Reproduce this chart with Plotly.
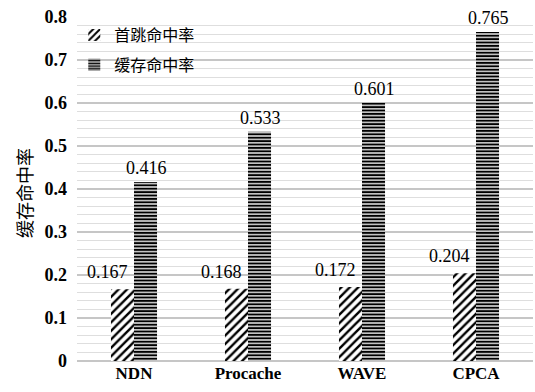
import plotly.graph_objects as go

# Hit-ratio comparison of four caching schemes
schemes = ["NDN", "Procache", "WAVE", "CPCA"]
first_hop_hit = [0.167, 0.168, 0.172, 0.204]
cache_hit = [0.416, 0.533, 0.601, 0.765]
series_names = ["首跳命中率", "缓存命中率"]
y_ticks = [0, 0.1, 0.2, 0.3, 0.4, 0.5, 0.6, 0.7, 0.8]

serif = "Liberation Serif"
cjk = "Noto Sans CJK SC"

fig = go.Figure()
fig.add_trace(go.Bar(
    x=schemes, y=first_hop_hit, name=series_names[0], legendgroup="a",
    marker=dict(color="white", line=dict(width=0),
                pattern=dict(shape="/", fgcolor="black", bgcolor="white",
                             size=6, solidity=0.4, fillmode="replace")),
))
fig.add_trace(go.Bar(
    x=schemes, y=cache_hit, name=series_names[1], legendgroup="b",
    marker=dict(color="white", line=dict(width=0),
                pattern=dict(shape="-", fgcolor="black", bgcolor="white",
                             size=3.4, solidity=0.62, fillmode="replace")),
))

annotations = []
for cat, v in zip(schemes, first_hop_hit):
    annotations.append(dict(x=cat, y=v, xref="x", yref="y", text=f"{v:.3f}",
                            showarrow=False, xanchor="center", yanchor="bottom",
                            xshift=-27, yshift=5,
                            font=dict(family=serif, size=18, color="black")))
for cat, v in zip(schemes, cache_hit):
    annotations.append(dict(x=cat, y=v, xref="x", yref="y", text=f"{v:.3f}",
                            showarrow=False, xanchor="center", yanchor="bottom",
                            xshift=12, yshift=2,
                            font=dict(family=serif, size=18, color="black")))
annotations.append(dict(x=0, y=0.5, xref="paper", yref="paper", text="缓存命中率",
                        textangle=-90, showarrow=False, xanchor="center",
                        yanchor="middle", xshift=-53, yshift=-4,
                        font=dict(family=cjk, size=18, color="black")))

fig.update_layout(
    width=535, height=392,
    margin=dict(l=77, r=2, t=17, b=31),
    paper_bgcolor="white", plot_bgcolor="white",
    barmode="group", bargap=0.596, bargroupgap=0,
    showlegend=True,
    legend=dict(x=-0.006, y=0.997, xanchor="left", yanchor="top",
                bgcolor="rgba(0,0,0,0)", font=dict(family=cjk, size=16, color="black"),
                tracegroupgap=6, itemwidth=30),
    annotations=annotations,
    xaxis=dict(showline=False, ticks="", showgrid=False,
               tickfont=dict(family=serif, size=17, color="black", weight="bold")),
    yaxis=dict(range=[0, 0.8], tickvals=y_ticks, ticktext=[f"{t:g}" for t in y_ticks],
               showgrid=True, gridcolor="#c6c6c6", gridwidth=1.6,
               zeroline=True, zerolinecolor="#c6c6c6", zerolinewidth=1.6,
               showline=False, ticks="", ticklabelstandoff=9,
               tickfont=dict(family=serif, size=18, color="black", weight="bold"),
               minor=dict(dtick=0.02, showgrid=True, gridcolor="#dedede", gridwidth=1)),
)

fig.write_html("out.html")
